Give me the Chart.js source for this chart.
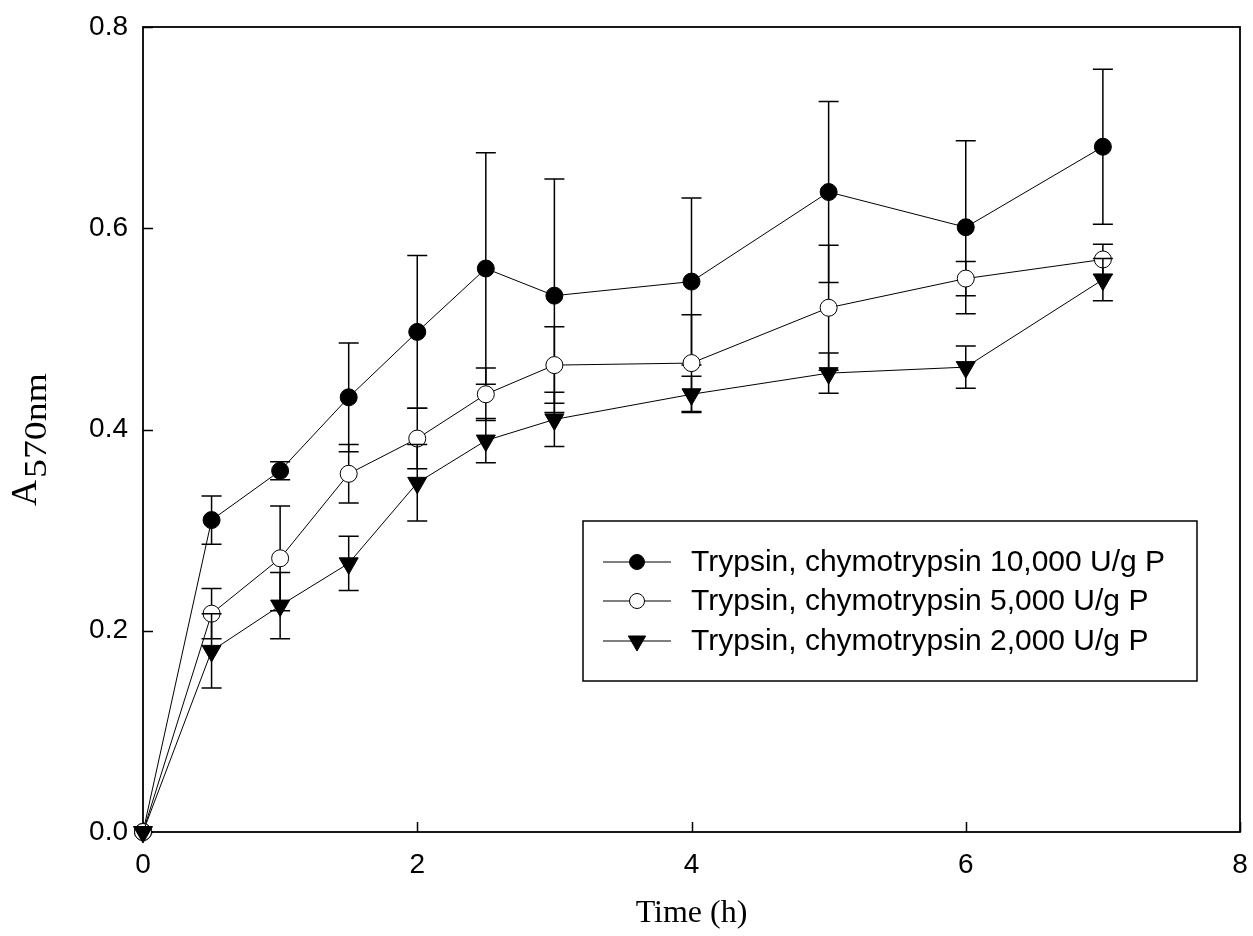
<!DOCTYPE html>
<html>
<head>
<meta charset="utf-8">
<script src="https://cdn.jsdelivr.net/npm/chart.js@4.4.0/dist/chart.umd.min.js"></script>
<style>
  html, body { margin: 0; padding: 0; background: #fff; }
  #wrap { width: 1253px; height: 936px; }
</style>
</head>
<body>
<div id="wrap"><canvas id="chart" width="1253" height="936"></canvas></div>
<script>
// values
const timeHours = [0, 0.5, 1, 1.5, 2, 2.5, 3, 4, 5, 6, 7];

const dose10000 = [0, 0.310, 0.359, 0.432, 0.497, 0.560, 0.533, 0.547, 0.636, 0.601, 0.681];
const dose10000Err = [0, 0.024, 0.009, 0.054, 0.076, 0.115, 0.116, 0.083, 0.090, 0.086, 0.077];

const dose5000 = [0, 0.217, 0.272, 0.356, 0.391, 0.435, 0.464, 0.466, 0.521, 0.550, 0.569];
const dose5000Err = [0, 0.025, 0.052, 0.029, 0.030, 0.026, 0.038, 0.048, 0.062, 0.017, 0.015];

const dose2000 = [0, 0.180, 0.225, 0.267, 0.347, 0.389, 0.410, 0.435, 0.456, 0.462, 0.549];
const dose2000Err = [0, 0.037, 0.033, 0.027, 0.038, 0.022, 0.027, 0.018, 0.020, 0.021, 0.021];

const seriesLabels = [
  "Trypsin, chymotrypsin 10,000 U/g P",
  "Trypsin, chymotrypsin 5,000 U/g P",
  "Trypsin, chymotrypsin 2,000 U/g P",
];

const xTickValues = [0, 2, 4, 6, 8];
const yTickValues = [0, 0.2, 0.4, 0.6, 0.8];

const SANS = "'Liberation Sans', Arial, sans-serif";
const SERIF = "'Liberation Serif', 'Times New Roman', serif";

function toPoints(values) {
  return values.map((v, i) => ({ x: timeHours[i], y: v }));
}

function makeDataset(label, values, errors, style, fill, radius, rotation, order) {
  return {
    label: label,
    data: toPoints(values),
    errors: errors,
    borderColor: "#000",
    borderWidth: 1,
    pointStyle: style,
    pointRadius: radius,
    pointRotation: rotation,
    pointBackgroundColor: fill,
    pointBorderColor: "#000",
    pointBorderWidth: 1,
    tension: 0,
    clip: false,
    order: order,
  };
}

const datasets = [
  makeDataset(seriesLabels[0], dose10000, dose10000Err, "circle", "#000", 8.5, 0, 3),
  makeDataset(seriesLabels[1], dose5000, dose5000Err, "circle", "#fff", 8.5, 0, 2),
  makeDataset(seriesLabels[2], dose2000, dose2000Err, "triangle", "#000", 11, 180, 1),
];

const figurePlugin = {
  id: "figure",
  beforeDatasetsDraw(chart) {
    const { ctx, chartArea: a, scales } = chart;
    ctx.save();
    ctx.strokeStyle = "#000";
    ctx.lineWidth = 1.5;
    // inward ticks
    ctx.beginPath();
    xTickValues.forEach((v) => {
      const px = Math.round(scales.x.getPixelForValue(v)) + 0.5;
      ctx.moveTo(px, a.bottom);
      ctx.lineTo(px, a.bottom - 10);
    });
    yTickValues.forEach((v) => {
      const py = Math.round(scales.y.getPixelForValue(v)) + 0.5;
      ctx.moveTo(a.left, py);
      ctx.lineTo(a.left + 10, py);
    });
    ctx.stroke();
    // frame
    ctx.lineWidth = 1.8;
    ctx.strokeRect(a.left, a.top, a.right - a.left, a.bottom - a.top);
    ctx.restore();
  },
  beforeDatasetDraw(chart, args) {
    const { ctx, scales } = chart;
    const ds = chart.data.datasets[args.index];
    ctx.save();
    ctx.strokeStyle = "#000";
    ctx.lineWidth = 1.5;
    ctx.beginPath();
    ds.data.forEach((p, i) => {
      const e = ds.errors[i];
      if (!e) return;
      const px = scales.x.getPixelForValue(p.x);
      const top = scales.y.getPixelForValue(p.y + e);
      const bot = scales.y.getPixelForValue(p.y - e);
      ctx.moveTo(px, top);
      ctx.lineTo(px, bot);
      ctx.moveTo(px - 10, top);
      ctx.lineTo(px + 10, top);
      ctx.moveTo(px - 10, bot);
      ctx.lineTo(px + 10, bot);
    });
    ctx.stroke();
    ctx.restore();
  },
  afterDraw(chart) {
    const { ctx } = chart;
    ctx.save();
    // legend box
    ctx.strokeStyle = "#000";
    ctx.lineWidth = 1.5;
    ctx.strokeRect(583, 521, 614, 160);
    const rows = [562, 601, 641];
    chart.data.datasets.forEach((ds, i) => {
      const y = rows[i];
      ctx.beginPath();
      ctx.lineWidth = 1.2;
      ctx.strokeStyle = "#000";
      ctx.moveTo(603, y);
      ctx.lineTo(671, y);
      ctx.stroke();
      ctx.fillStyle = ds.pointBackgroundColor;
      ctx.lineWidth = 1;
      Chart.helpers.drawPoint(ctx, {
        pointStyle: ds.pointStyle,
        rotation: ds.pointRotation,
        radius: ds.pointStyle === "triangle" ? 10 : 7.5,
        borderWidth: 1,
      }, 637, y);
      ctx.fillStyle = "#000";
      ctx.font = "30px " + SANS;
      ctx.textBaseline = "middle";
      ctx.textAlign = "left";
      ctx.fillText(ds.label, 691, y + 1);
    });
    // y axis title with subscript
    ctx.translate(36, 506);
    ctx.rotate(-Math.PI / 2);
    ctx.fillStyle = "#000";
    ctx.textBaseline = "alphabetic";
    ctx.textAlign = "left";
    ctx.font = "36px " + SERIF;
    ctx.fillText("A", 0, 0);
    const w = ctx.measureText("A").width;
    ctx.translate(w + 2, 10);
    ctx.scale(1.18, 1);
    ctx.font = "32px " + SERIF;
    ctx.fillText("570nm", 0, 0);
    ctx.restore();
  },
};

new Chart(document.getElementById("chart"), {
  type: "line",
  data: { datasets: datasets },
  plugins: [figurePlugin],
  options: {
    responsive: false,
    animation: false,
    layout: { padding: { top: 27, right: 13, left: 0, bottom: 0 } },
    plugins: { legend: { display: false }, tooltip: { enabled: false } },
    scales: {
      x: {
        type: "linear",
        min: 0,
        max: 8,
        afterBuildTicks: (scale) => { scale.ticks = xTickValues.map((v) => ({ value: v })); },
        afterFit: (scale) => {
          scale.height = 104;
          scale.paddingLeft = 0;
          scale.paddingRight = 0;
        },
        grid: { display: false, drawTicks: false },
        border: { display: false },
        ticks: {
          color: "#000",
          font: { family: SANS, size: 28 },
          padding: 16,
          maxRotation: 0,
          callback: (v) => String(v),
        },
        title: {
          display: true,
          text: "Time (h)",
          color: "#000",
          font: { family: SERIF, size: 32 },
          padding: { top: 0, bottom: 3 },
        },
      },
      y: {
        type: "linear",
        min: 0,
        max: 0.8,
        afterBuildTicks: (scale) => { scale.ticks = yTickValues.map((v) => ({ value: v })); },
        afterFit: (scale) => {
          scale.width = 143;
          scale.paddingTop = 0;
          scale.paddingBottom = 0;
        },
        grid: { display: false, drawTicks: false },
        border: { display: false },
        ticks: {
          color: "#000",
          font: { family: SANS, size: 28 },
          padding: 15,
          callback: (v) => v.toFixed(1),
        },
      },
    },
  },
});
</script>
</body>
</html>
